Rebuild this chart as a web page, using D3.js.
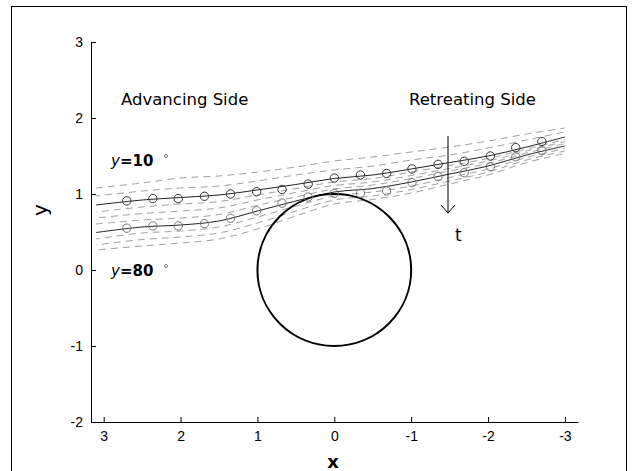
<!DOCTYPE html>
<html>
<head>
<meta charset="utf-8">
<script src="https://cdn.jsdelivr.net/npm/d3@7"></script>
<style>
  body { margin: 0; background: #fff; }
  svg { display: block; font-family: "DejaVu Sans", sans-serif; }
  .tick line { stroke: #000; }
  .tick text { font-size: 14px; fill: #000; }
  .domain { stroke: #000; }
</style>
</head>
<body>
<svg id="chart" width="638" height="471"></svg>
<script>
// stations along x where the curves were read
var stationX = [3.1, 2.5, 2.0, 1.5, 1.0, 0.5, 0.0, -0.5, -1.0, -1.5, -2.0, -2.5, -3.0];

// solid lines
var solidUpper = [0.855, 0.921, 0.954, 0.987, 1.053, 1.125, 1.204, 1.250, 1.329, 1.414, 1.500, 1.618, 1.750];
var solidLower = [0.493, 0.566, 0.592, 0.645, 0.776, 0.908, 1.026, 1.072, 1.158, 1.263, 1.368, 1.513, 1.632];

// dashed lines
var dashA1 = [1.079, 1.145, 1.211, 1.237, 1.289, 1.355, 1.434, 1.487, 1.553, 1.618, 1.697, 1.789, 1.868];
var dashA2 = [0.974, 1.039, 1.079, 1.105, 1.171, 1.250, 1.316, 1.368, 1.447, 1.513, 1.605, 1.711, 1.816];
var dashM1 = [0.763, 0.829, 0.868, 0.901, 0.987, 1.072, 1.158, 1.204, 1.289, 1.375, 1.467, 1.592, 1.717];
var dashM2 = [0.684, 0.743, 0.776, 0.816, 0.921, 1.020, 1.112, 1.158, 1.243, 1.336, 1.434, 1.566, 1.691];
var dashM3 = [0.605, 0.658, 0.684, 0.730, 0.849, 0.961, 1.066, 1.118, 1.204, 1.303, 1.401, 1.539, 1.664];
var dashB1 = [0.408, 0.487, 0.513, 0.566, 0.697, 0.842, 0.974, 1.026, 1.105, 1.217, 1.329, 1.480, 1.599];
var dashB2 = [0.329, 0.401, 0.434, 0.487, 0.618, 0.776, 0.921, 0.974, 1.059, 1.171, 1.289, 1.447, 1.566];
var dashB3 = [0.263, 0.316, 0.355, 0.408, 0.539, 0.711, 0.868, 0.928, 1.013, 1.132, 1.250, 1.414, 1.533];

// circle markers
var markerX = [2.7, 2.36, 2.03, 1.69, 1.35, 1.01, 0.68, 0.34, 0.0, -0.34, -0.68, -1.01, -1.35, -1.69, -2.03, -2.36, -2.7];
var markerUpper = [0.91, 0.94, 0.94, 0.97, 1.00, 1.03, 1.06, 1.13, 1.21, 1.25, 1.27, 1.33, 1.39, 1.43, 1.50, 1.61, 1.69];
var markerLower = [0.55, 0.58, 0.58, 0.61, 0.68, 0.78, 0.88, 0.96, 1.01, 1.01, 1.04, 1.15, 1.23, 1.28, 1.36, 1.49, 1.57];

var xTicks = [3, 2, 1, 0, -1, -2, -3];
var yTicks = [3, 2, 1, 0, -1, -2];

var svg = d3.select("#chart");

// outer frame
svg.append("rect")
  .attr("x", 11.5).attr("y", 6.5)
  .attr("width", 615).attr("height", 480)
  .attr("fill", "none").attr("stroke", "#000");

var x = d3.scaleLinear().domain([3.165, -3.17]).range([91, 578]);
var y = d3.scaleLinear().domain([-2, 3]).range([422, 42]);

var plain = function(d) { return String(d); };

svg.append("g")
  .attr("transform", "translate(0,422)")
  .call(d3.axisBottom(x).tickValues(xTicks).tickFormat(plain)
    .tickSizeInner(-5).tickSizeOuter(0).tickPadding(9));

svg.append("g")
  .attr("transform", "translate(91,0)")
  .call(d3.axisLeft(y).tickValues(yTicks).tickFormat(plain)
    .tickSizeInner(-5).tickSizeOuter(0).tickPadding(8));

svg.append("text")
  .attr("x", 333).attr("y", 468)
  .attr("text-anchor", "middle")
  .style("font-size", "18px").style("font-weight", "bold")
  .text("x");

svg.append("text")
  .attr("transform", "translate(47,210) rotate(-90)")
  .attr("text-anchor", "middle")
  .style("font-size", "20px")
  .text("y");

var line = d3.line()
  .x(function(d) { return x(d[0]); })
  .y(function(d) { return y(d[1]); })
  .curve(d3.curveCatmullRom);

function pairs(ys) {
  return stationX.map(function(v, i) { return [v, ys[i]]; });
}

var gCurves = svg.append("g");

[dashA1, dashA2, dashM1, dashM2, dashM3, dashB1, dashB2, dashB3].forEach(function(ys, i) {
  gCurves.append("path")
    .attr("d", line(pairs(ys)))
    .attr("fill", "none")
    .attr("stroke", "#959595")
    .attr("stroke-width", 0.9)
    .attr("stroke-dasharray", "7,5")
    .attr("stroke-dashoffset", i * 3);
});

[solidUpper, solidLower].forEach(function(ys) {
  gCurves.append("path")
    .attr("d", line(pairs(ys)))
    .attr("fill", "none")
    .attr("stroke", "#222")
    .attr("stroke-width", 1);
});

// cylinder, radius 1
svg.append("ellipse")
  .attr("cx", x(0)).attr("cy", y(0))
  .attr("rx", x(0) - x(1)).attr("ry", y(0) - y(1))
  .attr("fill", "none").attr("stroke", "#000").attr("stroke-width", 2);

var gMarks = svg.append("g");
gMarks.selectAll("circle.up")
  .data(markerX)
  .enter().append("circle")
  .attr("cx", function(d) { return x(d); })
  .attr("cy", function(d, i) { return y(markerUpper[i]); })
  .attr("r", 4.2)
  .attr("fill", "none").attr("stroke", "#333").attr("stroke-width", 1);

gMarks.selectAll("circle.low")
  .data(markerX)
  .enter().append("circle")
  .attr("cx", function(d) { return x(d); })
  .attr("cy", function(d, i) { return y(markerLower[i]); })
  .attr("r", 4.2)
  .attr("fill", "none").attr("stroke", "#777").attr("stroke-width", 1);

// labels
svg.append("text").attr("x", 121).attr("y", 105)
  .style("font-size", "16.5px").text("Advancing Side");
svg.append("text").attr("x", 409).attr("y", 105)
  .style("font-size", "16.5px").text("Retreating Side");

function psiLabel(ty, val) {
  var t = svg.append("text").attr("x", 111).attr("y", ty).style("font-size", "15px");
  t.append("tspan").style("font-style", "italic").text("y");
  t.append("tspan").style("font-weight", "bold").text("=" + val);
  svg.append("circle").attr("cx", 166).attr("cy", ty - 10).attr("r", 1.5)
    .attr("fill", "none").attr("stroke", "#444").attr("stroke-width", 0.7);
}
psiLabel(166, "10");
psiLabel(276, "80");

// time arrow
svg.append("line")
  .attr("x1", 448).attr("y1", 136).attr("x2", 448).attr("y2", 213)
  .attr("stroke", "#000");
svg.append("path")
  .attr("d", "M441,205 L448,213 L455,205")
  .attr("fill", "none").attr("stroke", "#000");

svg.append("text").attr("x", 455).attr("y", 241)
  .style("font-size", "17px").text("t");
</script>
</body>
</html>
